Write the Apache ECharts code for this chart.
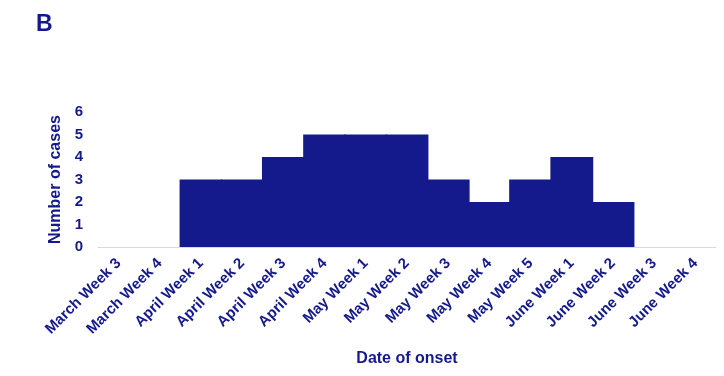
<!DOCTYPE html>
<html><head><meta charset="utf-8">
<script src="https://cdn.jsdelivr.net/npm/echarts@6/dist/echarts.min.js"></script>
<style>html,body{margin:0;padding:0;background:#fff}#c{width:724px;height:376px}</style>
</head><body><div id="c"></div>
<script>
const categories = ['March Week 3','March Week 4','April Week 1','April Week 2','April Week 3','April Week 4','May Week 1','May Week 2','May Week 3','May Week 4','May Week 5','June Week 1','June Week 2','June Week 3','June Week 4'];
const cases = [0,0,3,3,4,5,5,5,3,2,3,4,2,0,0];
const yTicks = [0,1,2,3,4,5,6];
const navy = '#141a8c';
const font = 'Liberation Sans, Arial, sans-serif';
const chart = echarts.init(document.getElementById('c'));
chart.setOption({
  animation:false,
  title:{text:'B',left:31,top:8,textStyle:{color:navy,fontSize:23,fontWeight:'bold',fontFamily:font}},
  grid:{left:98,right:8,top:112,bottom:129,containLabel:false},
  xAxis:{type:'category',data:categories,
    axisLine:{lineStyle:{color:'#d9d9d9',width:1}},axisTick:{show:false},
    axisLabel:{interval:0,rotate:45,color:navy,fontWeight:'bold',fontSize:15,fontFamily:font,margin:14},
    name:'Date of onset',nameLocation:'middle',nameGap:104,
    nameTextStyle:{color:navy,fontWeight:'bold',fontSize:16,fontFamily:font}},
  yAxis:{type:'value',min:0,max:6,interval:1,splitLine:{show:false},
    axisLine:{show:false},axisTick:{show:false},
    axisLabel:{color:navy,fontWeight:'bold',fontSize:15,fontFamily:font,margin:15,
      formatter:v=>yTicks.includes(v)?String(v):''},
    name:'Number of cases',nameLocation:'middle',nameGap:33,
    nameTextStyle:{color:navy,fontWeight:'bold',fontSize:16,fontFamily:font}},
  series:[{type:'bar',barCategoryGap:'-4%',data:cases,
    itemStyle:{color:navy,borderWidth:0}}]
});
</script></body></html>
